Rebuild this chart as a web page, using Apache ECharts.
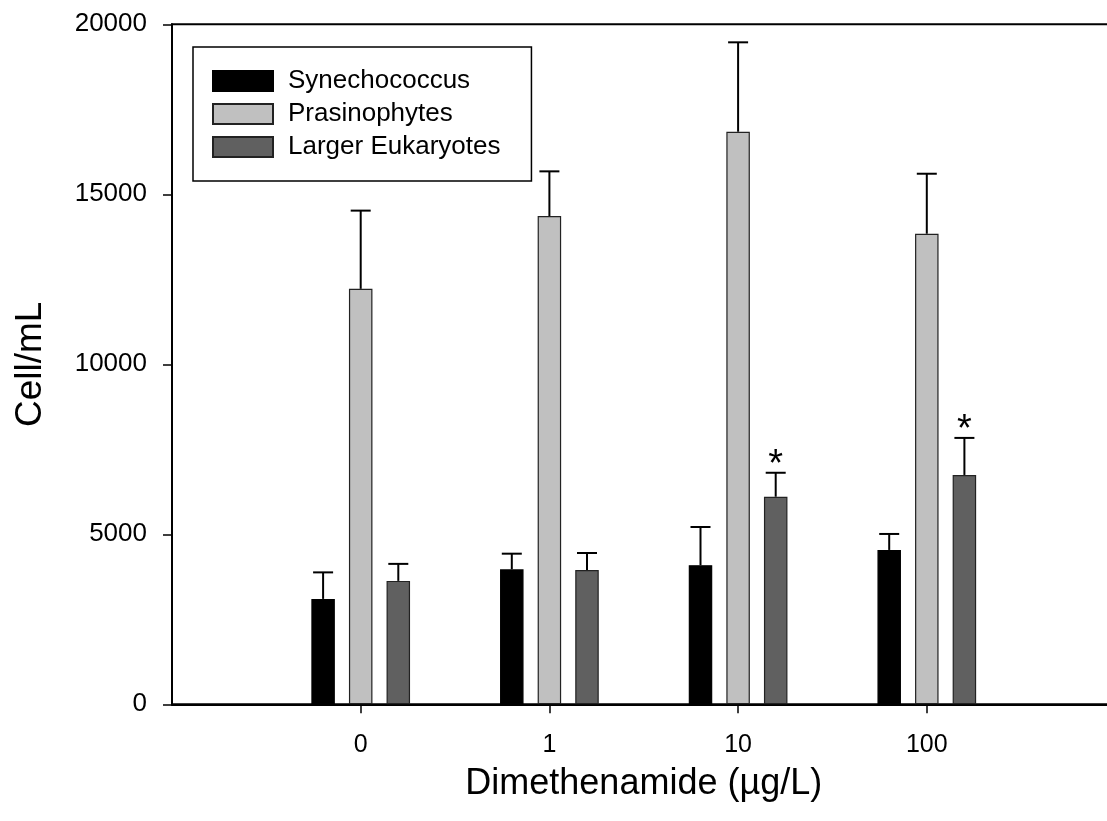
<!DOCTYPE html>
<html><head><meta charset="utf-8">
<script src="https://cdn.jsdelivr.net/npm/echarts@6/dist/echarts.min.js"></script>
<style>html,body{margin:0;padding:0;background:#fff}#c{width:1107px;height:821px}</style>
</head><body><div id="c"></div>
<script>
// ---- data ----
const categories = ['0', '1', '10', '100'];
const seriesNames = ['Synechococcus', 'Prasinophytes', 'Larger Eukaryotes'];
const synechococcus    = [3100, 3970, 4090, 4540];
const synechococcusErr = [780, 460, 1125, 470];
const prasinophytes    = [12220, 14360, 16840, 13840];
const prasinophytesErr = [2300, 1315, 2630, 1765];
const largerEuk        = [3630, 3950, 6105, 6745];
const largerEukErr     = [500, 500, 705, 1090];
const largerEukSig     = ['', '', '*', '*'];
const yTicks = [0, 5000, 10000, 15000, 20000];

// ---- build ----
const FONT = '"Liberation Sans", Arial, Helvetica, sans-serif';
const axisCats = [''].concat(categories).concat(['']);
function pad(arr){ return ['-'].concat(arr).concat(['-']); }
const BAR_W = 23.5, GAP = 0.6;
const STEP = BAR_W * (1 + GAP);
const CAP_HALF = 10;

function errData(vals, errs){ return vals.map((v, i) => [i + 1, v, errs[i]]); }
function errRender(offset, sig){
  return function(params, api){
    const x = api.value(0), m = api.value(1), e = api.value(2);
    const p0 = api.coord([x, m]);
    const p1 = api.coord([x, m + e]);
    const cx = p0[0] + offset;
    const ch = [
      {type:'line', shape:{x1:cx, y1:p0[1], x2:cx, y2:p1[1]}, style:{stroke:'#000', lineWidth:2}},
      {type:'line', shape:{x1:cx - CAP_HALF, y1:p1[1], x2:cx + CAP_HALF, y2:p1[1]}, style:{stroke:'#000', lineWidth:2}}
    ];
    if (sig && sig[params.dataIndex]) {
      ch.push({type:'text', x:cx, y:p1[1] - 7, style:{text:sig[params.dataIndex], fontSize:38, fontFamily:FONT, fill:'#000', align:'center', verticalAlign:'middle'}});
    }
    return {type:'group', children:ch};
  };
}

const colors = ['#000000', '#c0c0c0', '#606060'];
const vals = [synechococcus, prasinophytes, largerEuk];
const errs = [synechococcusErr, prasinophytesErr, largerEukErr];
const sigs = [null, null, largerEukSig];

const series = [];
seriesNames.forEach((n, k) => {
  series.push({
    name: n, type: 'bar', data: pad(vals[k]), barWidth: BAR_W, barGap: (GAP * 100) + '%',
    itemStyle: {color: colors[k], borderColor: k === 0 ? '#000' : '#222', borderWidth: 1.2},
    z: 2
  });
});
seriesNames.forEach((n, k) => {
  series.push({
    type: 'custom', renderItem: errRender((k - 1) * STEP, sigs[k]),
    data: errData(vals[k], errs[k]), z: 5, silent: true
  });
});

const chart = echarts.init(document.getElementById('c'), null, {renderer: 'canvas'});
chart.setOption({
  animation: false,
  backgroundColor: '#fff',
  grid: {left: 172, top: 24.3, width: 943.5, height: 680, show: true, borderColor: '#000', borderWidth: 2,
         backgroundColor: 'transparent', containLabel: false, outerBoundsMode: 'none'},
  legend: {
    data: seriesNames, orient: 'vertical', left: 193, top: 47, icon: 'rect',
    itemWidth: 60, itemHeight: 20, itemGap: 7, padding: [21, 31, 21, 19],
    borderColor: '#000', borderWidth: 1.5, selectedMode: false,
    textStyle: {fontSize: 26, fontFamily: FONT, color: '#000', padding: [0, 0, 0, 10]}
  },
  xAxis: {
    type: 'category', data: axisCats, boundaryGap: false,
    axisLine: {lineStyle: {color: '#000', width: 2}},
    axisTick: {show: true, length: 9, inside: false, lineStyle: {color: '#000', width: 1.5},
               interval: (i) => i > 0 && i < axisCats.length - 1},
    axisLabel: {fontSize: 25, fontFamily: FONT, color: '#000', margin: 28, interval: 0},
    splitLine: {show: false},
    name: 'Dimethenamide (µg/L)', nameLocation: 'middle', nameGap: 62,
    nameTextStyle: {fontSize: 36, fontFamily: FONT, color: '#000'}
  },
  yAxis: {
    type: 'value', min: yTicks[0], max: yTicks[yTicks.length - 1], interval: yTicks[1] - yTicks[0],
    axisLine: {show: true, lineStyle: {color: '#000', width: 2}},
    axisTick: {show: true, length: 9, inside: false, lineStyle: {color: '#000', width: 1.5}},
    axisLabel: {fontSize: 26, fontFamily: FONT, color: '#000', margin: 25, formatter: (v) => String(v)},
    splitLine: {show: false},
    name: 'Cell/mL', nameLocation: 'middle', nameGap: 123, nameRotate: 90,
    nameTextStyle: {fontSize: 37, fontFamily: FONT, color: '#000'}
  },
  series: series
});
</script>
</body></html>
